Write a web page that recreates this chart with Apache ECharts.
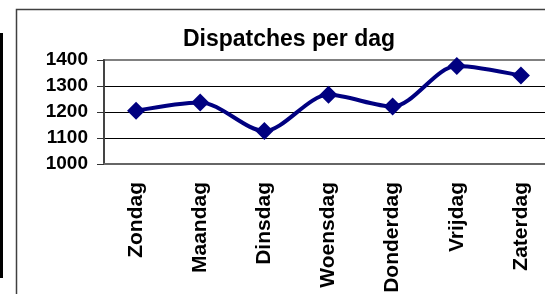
<!DOCTYPE html>
<html>
<head>
<meta charset="utf-8">
<script src="https://cdn.jsdelivr.net/npm/echarts@6/dist/echarts.min.js"></script>
<style>
html, body { margin: 0; padding: 0; background: #fff; }
#chartBox { width: 545px; height: 294px; }
</style>
</head>
<body>
<div id="chartBox"></div>
<script>
// dagen van de week en aantal dispatches
var days = ['Zondag', 'Maandag', 'Dinsdag', 'Woensdag', 'Donderdag', 'Vrijdag', 'Zaterdag'];
var dispatches = [1205, 1237, 1127, 1266, 1221, 1377, 1340];
var yTicks = [1000, 1100, 1200, 1300, 1400];

var drawDispatches = function () {
	var chart = echarts.init(document.getElementById('chartBox'));
	var fontName = 'Liberation Sans, Arial, sans-serif';
	chart.setOption({
		animation: false,
		backgroundColor: '#fff',
		title: {
			text: 'Dispatches per dag',
			left: 289,
			top: 28,
			padding: 0,
			textAlign: 'center',
			textStyle: {
				color: '#000',
				fontSize: 23,
				fontWeight: 'bold',
				fontFamily: fontName
			}
		},
		// rand van de grafiek + zwarte balk links
		graphic: [
			{ type: 'rect', shape: { x: 0, y: 33, width: 3, height: 245 }, style: { fill: '#000' } },
			{ type: 'polyline', shape: { points: [[16.5, 300], [16.5, 9.5], [560, 9.5]] }, style: { stroke: '#404040', lineWidth: 1.5, fill: null } }
		],
		grid: {
			left: 104,
			top: 60,
			width: 449,
			height: 104,
			outerBoundsMode: 'none',
			containLabel: false,
			show: true,
			borderColor: '#808080',
			borderWidth: 2
		},
		xAxis: {
			type: 'category',
			data: days,
			boundaryGap: true,
			axisLine: { lineStyle: { color: '#666', width: 2 } },
			axisTick: { length: 7, lineStyle: { color: '#333' } },
			axisLabel: {
				rotate: 90,
				margin: 18,
				color: '#000',
				fontSize: 21,
				fontWeight: 'bold',
				fontFamily: fontName
			}
		},
		yAxis: {
			type: 'value',
			min: yTicks[0],
			max: yTicks[yTicks.length - 1],
			interval: 100,
			axisLine: { show: true, lineStyle: { color: '#444', width: 2 } },
			axisTick: { show: true, length: 7, lineStyle: { color: '#333' } },
			axisLabel: {
				margin: 16,
				color: '#000',
				fontSize: 19,
				fontWeight: 'bold',
				fontFamily: fontName,
				formatter: function (v) { return String(v); }
			},
			splitLine: {
				show: true,
				lineStyle: { color: ['#000', '#000', '#000', '#000', '#808080'], width: 1 }
			}
		},
		series: [{
			name: 'Dispatches',
			type: 'line',
			data: dispatches,
			smooth: 0.3,
			symbol: 'diamond',
			symbolSize: 18,
			lineStyle: { color: '#000080', width: 4 },
			itemStyle: { color: '#000080' }
		}]
	});
};

drawDispatches();
</script>
</body>
</html>
